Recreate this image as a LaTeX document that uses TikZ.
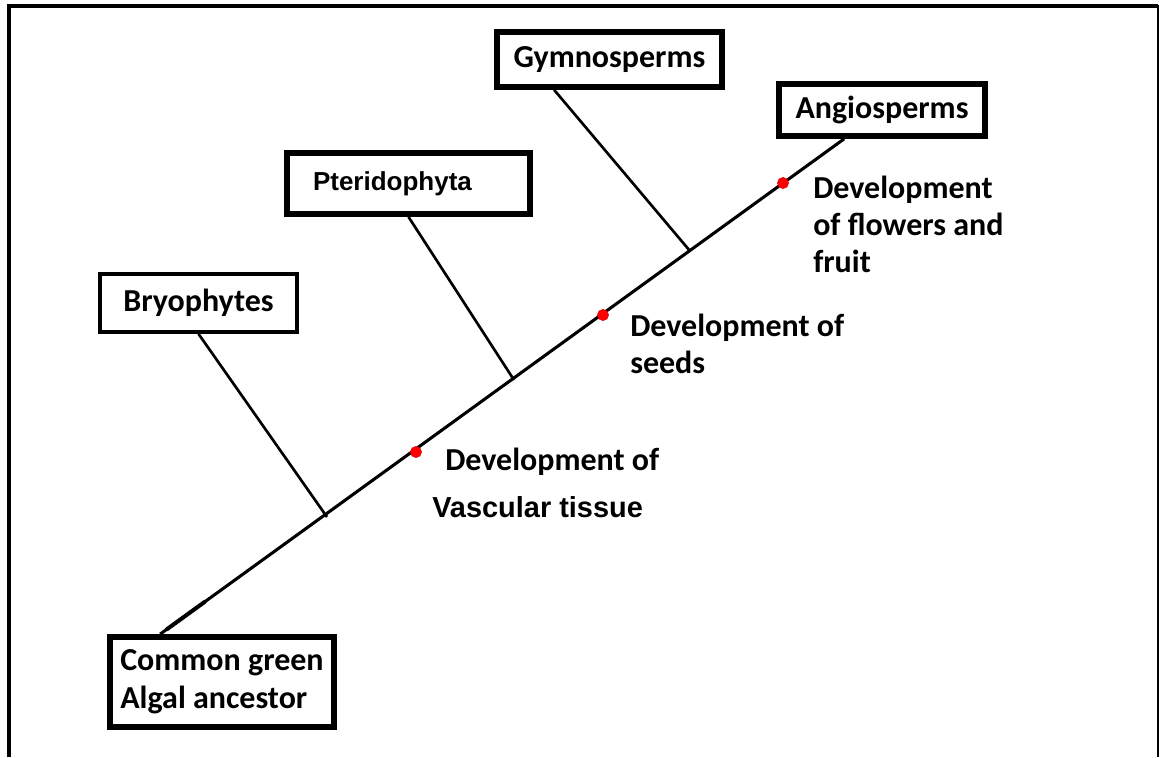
\documentclass[tikz,border=0pt]{standalone}
\usepackage{fontspec}
\newfontfamily\calib{Carlito}
\newfontfamily\arl{Liberation Sans}
\usetikzlibrary{calc}
\begin{document}
\begin{tikzpicture}[x=0.75pt,y=-0.75pt,
  box/.style={draw, line width=4.3pt, inner sep=0pt, fill=white,
    font=\calib\bfseries\fontsize{24}{28.5}\selectfont},
  lbl/.style={anchor=west, inner sep=0pt, align=left,
    font=\calib\bfseries\fontsize{24}{27.75}\selectfont},
  mainline/.style={line width=2.3pt},
  branch/.style={line width=2pt},
  dot/.style={circle, fill=red, draw=red!80!black, line width=0.3pt, inner sep=0pt, minimum size=8.5pt}]
\useasboundingbox (0,0) rectangle (1160,757);
% frame
\draw[line width=3pt] (8.5,757) -- (8.5,6) -- (1158,6);
\draw[line width=1.6pt] (1158,5) -- (1158,757);
% boxes
\node[box, line width=2.8pt, minimum width=147.75pt, minimum height=43.5pt] (bryo) at (198.5,303) {Bryophytes};
\node[box, minimum width=182.25pt, minimum height=45.75pt, text width=143.25pt, inner xsep=19.5pt, align=left,
  font=\arl\bfseries\fontsize{19.5}{23}\selectfont] (pter) at (408.5,183.5) {Pteridophyta};
\node[box, minimum width=168.75pt, minimum height=41.25pt] (gymno) at (609.5,59.5) {Gymnosperms};
\node[box, minimum width=154.5pt, minimum height=39pt] (angio) at (882,110) {Angiosperms};
\node[box, minimum width=168pt, minimum height=67.5pt, align=left] (anc) at (222,682) {Common green\\Algal ancestor};
% coordinates on main line
\coordinate (root) at ($(anc.north west)+(53,0)$);
\coordinate (tip) at ($(angio.south west)+(68,0)$);
\coordinate (j1) at (327,517);
\coordinate (j2) at (514,380);
\coordinate (j3) at (690,251);
% main line
\draw[mainline] (root) -- (tip);
\draw[line width=3pt, line cap=round] ($(root)!0.01!(tip)$) -- ($(root)!0.065!(tip)$);
% branches
\draw[branch] (bryo.south) -- (j1);
\draw[branch] (pter.south) -- (j2);
\draw[branch] ($(gymno.south west)!0.26!(gymno.south east)$) -- (j3);
% dots
\node[dot] (d1) at (416,452) {};
\node[dot] (d2) at (603,315) {};
\node[dot] (d3) at (783,183) {};
% labels
\node[lbl] (vas1) at (445,462) {Development of};
\node[lbl, font=\arl\bfseries\fontsize{21.7}{26}\selectfont] (vas2) at (432,507) {Vascular tissue};
\node[lbl] (seed) at (630,344) {Development of\\seeds};
\node[lbl] (flow) at (813,224) {Development\\of flowers and\\fruit};
\end{tikzpicture}
\end{document}
